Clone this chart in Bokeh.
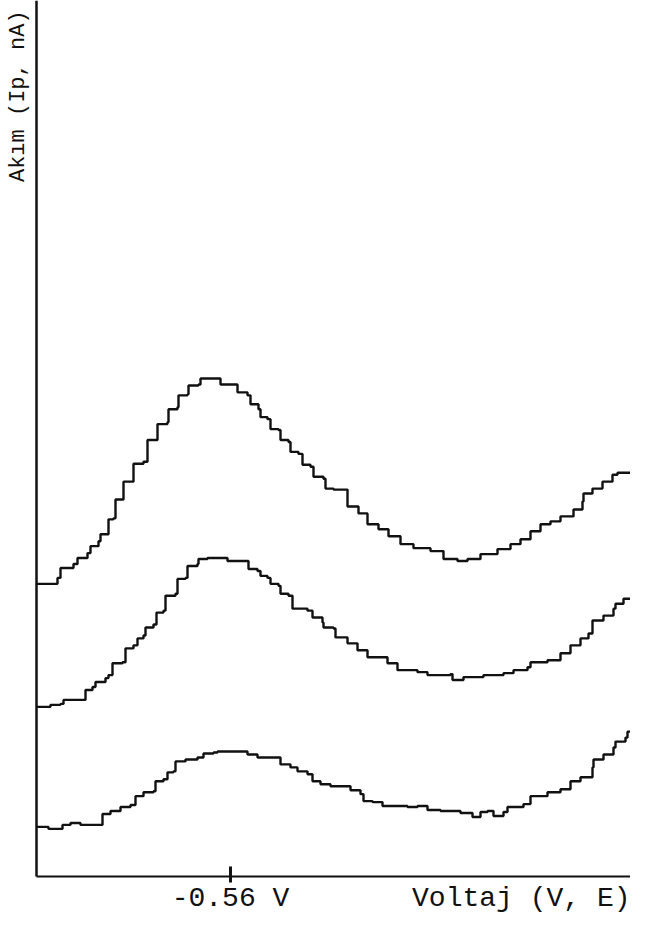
from bokeh.plotting import figure
from bokeh.models import Range1d, FixedTicker, Label
from bokeh.embed import file_html
from bokeh.resources import INLINE

# ---- data (potential E in V, current in arbitrary units) ----
E1 = [-0.366, -0.387, -0.390, -0.403, -0.407, -0.417, -0.420, -0.428, -0.430, -0.438,
      -0.438, -0.443, -0.445, -0.452, -0.453, -0.462, -0.463, -0.473, -0.477, -0.487,
      -0.487, -0.497, -0.498, -0.507, -0.508, -0.517, -0.518, -0.528, -0.530, -0.543,
      -0.550, -0.560, -0.567, -0.577, -0.580, -0.588, -0.590, -0.597, -0.600, -0.608,
      -0.610, -0.618, -0.620, -0.628, -0.632, -0.640, -0.643, -0.653, -0.655, -0.663,
      -0.677, -0.688, -0.697, -0.708, -0.718, -0.730, -0.743, -0.760, -0.773, -0.787,
      -0.797, -0.810, -0.827, -0.840, -0.850, -0.860, -0.870, -0.880, -0.890, -0.903,
      -0.912, -0.913, -0.922, -0.932, -0.942, -0.947, -0.962]
I1 = [295, 301, 311, 315, 321, 326, 333, 338, 345, 346,
      360, 361, 380, 380, 398, 398, 416, 418, 440, 441,
      456, 458, 471, 473, 485, 486, 495, 496, 502, 502,
      496, 496, 488, 485, 476, 471, 463, 461, 451, 450,
      440, 438, 428, 426, 415, 413, 403, 401, 391, 390,
      373, 366, 355, 350, 343, 335, 331, 328, 320, 318,
      320, 325, 330, 335, 340, 348, 355, 358, 363, 370,
      378, 386, 391, 398, 405, 407, 406]

E2 = [-0.366, -0.380, -0.390, -0.393, -0.412, -0.415, -0.422, -0.425, -0.435, -0.438,
      -0.442, -0.452, -0.455, -0.463, -0.467, -0.473, -0.475, -0.483, -0.486, -0.493,
      -0.495, -0.505, -0.507, -0.515, -0.517, -0.527, -0.528, -0.537, -0.555, -0.557,
      -0.573, -0.578, -0.587, -0.590, -0.597, -0.600, -0.608, -0.610, -0.618, -0.622,
      -0.637, -0.642, -0.652, -0.653, -0.663, -0.665, -0.677, -0.687, -0.697, -0.717,
      -0.727, -0.747, -0.757, -0.780, -0.782, -0.793, -0.813, -0.833, -0.843, -0.857,
      -0.860, -0.877, -0.890, -0.900, -0.910, -0.918, -0.922, -0.933, -0.943, -0.945,
      -0.953, -0.963, -0.965]
I2 = [171, 173, 174, 178, 178, 188, 191, 196, 200, 203,
      215, 216, 230, 233, 240, 243, 251, 254, 266, 268,
      283, 285, 300, 301, 313, 315, 320, 321, 321, 318,
      318, 310, 308, 303, 301, 295, 293, 285, 283, 270,
      268, 261, 256, 251, 250, 241, 235, 228, 221, 215,
      208, 206, 203, 204, 198, 201, 203, 205, 208, 211,
      216, 218, 225, 233, 240, 245, 258, 263, 270, 275,
      280, 285, 287]

E3 = [-0.366, -0.373, -0.378, -0.387, -0.392, -0.400, -0.410, -0.427, -0.432, -0.440,
      -0.450, -0.460, -0.465, -0.473, -0.483, -0.485, -0.493, -0.497, -0.503, -0.505,
      -0.515, -0.527, -0.533, -0.543, -0.547, -0.570, -0.577, -0.587, -0.607, -0.610,
      -0.620, -0.627, -0.637, -0.642, -0.650, -0.660, -0.680, -0.690, -0.693, -0.702,
      -0.712, -0.737, -0.747, -0.757, -0.770, -0.783, -0.790, -0.802, -0.810, -0.817,
      -0.823, -0.833, -0.837, -0.853, -0.860, -0.877, -0.890, -0.900, -0.910, -0.922,
      -0.923, -0.933, -0.943, -0.945, -0.955, -0.957, -0.966]
I3 = [50, 50, 48, 48, 52, 54, 52, 52, 63, 66,
      70, 72, 81, 85, 86, 96, 98, 105, 106, 116,
      118, 120, 124, 125, 126, 126, 123, 120, 120, 113,
      110, 106, 103, 96, 93, 91, 87, 83, 76, 75,
      71, 70, 71, 67, 66, 66, 64, 60, 65, 66,
      61, 65, 70, 73, 81, 85, 88, 96, 100, 110,
      118, 123, 130, 136, 140, 146, 147]

x_ticks = [-0.56]
x_tick_labels = {-0.56: "-0.56 V"}
x_title = "Voltaj (V, E)"
y_title = "Akım (Ip, nA)"

E_START = -0.366
I_TOP = 883
FONT = "Liberation Mono"

p = figure(width=630, height=914, output_backend="svg", toolbar_location=None,
           x_range=Range1d(start=-0.330, end=-0.960), y_range=Range1d(start=-38.3, end=I_TOP),
           min_border_left=0, min_border_right=0, min_border_top=0, min_border_bottom=0)
p.outline_line_color = None
p.xgrid.visible = False
p.ygrid.visible = False
p.background_fill_color = "white"
p.border_fill_color = "white"

for E, I in [(E1, I1), (E2, I2), (E3, I3)]:
    p.step(E, I, mode="after", line_color="#111111", line_width=2.4)

# x axis (drawn at current = 0)
xa = p.xaxis[0]
xa.fixed_location = 0
xa.bounds = (-0.99, E_START)
xa.ticker = FixedTicker(ticks=x_ticks)
xa.major_label_overrides = x_tick_labels
xa.minor_tick_line_color = None
xa.major_tick_in = 10
xa.major_tick_out = 6
xa.major_tick_line_width = 3
xa.major_tick_line_color = "#111111"
xa.axis_line_width = 2
xa.axis_line_color = "#111111"
xa.major_label_text_font = FONT
xa.major_label_text_font_size = "28px"
xa.major_label_text_color = "#111111"
xa.major_label_standoff = 0

# y axis (drawn at the start potential)
ya = p.yaxis[0]
ya.fixed_location = E_START
ya.bounds = (0, I_TOP)
ya.ticker = FixedTicker(ticks=[])
ya.major_tick_line_color = None
ya.minor_tick_line_color = None
ya.major_label_text_font_size = "0px"
ya.axis_line_width = 2.5
ya.axis_line_color = "#111111"

p.add_layout(Label(x=-0.960, y=0, text=x_title, text_align="right", text_baseline="top",
                   y_offset=-6, x_offset=0, text_font=FONT, text_font_size="28px",
                   text_color="#111111"))
p.add_layout(Label(x=E_START, y=I_TOP - 10, text=y_title, angle=1.5708, text_align="right",
                   text_baseline="alphabetic", x_offset=-18, text_font=FONT,
                   text_font_size="22px", text_color="#111111"))

open("out.html", "w").write(file_html(p, INLINE))
